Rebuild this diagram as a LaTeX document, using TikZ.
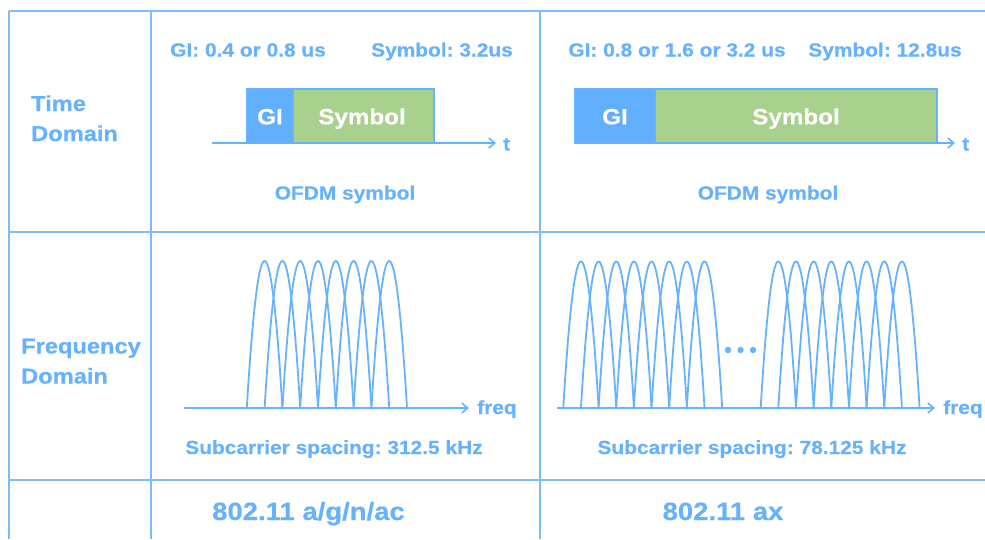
\documentclass[tikz,border=0pt]{standalone}
\usepackage{fontspec}
\setmainfont{Liberation Sans}[FakeStretch=1.1,FakeBold=0.5]
\frenchspacing
\usetikzlibrary{arrows.meta}
\definecolor{gridblue}{HTML}{7DBDF8}
\definecolor{lineblue}{HTML}{66B2FF}
\definecolor{txtblue}{HTML}{66B2FF}
\definecolor{gifill}{HTML}{62AEFF}
\definecolor{symgreen}{HTML}{A9D18E}
\tikzset{
  grid/.style={draw=gridblue, line width=1.4pt},
  lbl/.style={text=txtblue, font=\bfseries\fontsize{#1}{#1}\selectfont, inner sep=0pt, anchor=base},
  lbl/.default=19,
  rowhead/.style={text=txtblue, font=\bfseries\fontsize{21.5}{30}\selectfont, align=left, inner sep=0pt, anchor=base west},
  gibox/.style={draw=lineblue, line width=1.2pt, fill=gifill, minimum height=54pt, inner sep=0pt},
  symbox/.style={draw=lineblue, line width=1.2pt, fill=symgreen, minimum height=54pt, inner sep=0pt},
  boxtext/.style={text=white, font=\bfseries\fontsize{22}{22}\selectfont, inner sep=0pt, anchor=base},
  axis/.style={draw=lineblue, line width=1.8pt, -{Straight Barb[length=6pt,width=10pt,line width=1.6pt]}},
  arch/.style={draw=lineblue, line width=1.8pt},
}
\begin{document}
\begin{tikzpicture}[x=1pt,y=-1pt]
\useasboundingbox (0,0) rectangle (985,539);

% table rules
\draw[grid] (9,11) -- (985,11);
\draw[grid] (9,232) -- (985,232);
\draw[grid] (9,480) -- (985,480);
\draw[grid] (9,11) -- (9,539);
\draw[grid] (151,11) -- (151,539);
\draw[grid] (540,11) -- (540,539);

% row headings (base anchor sits on the last line)
\node[rowhead] (timehead) at (31,141) {Time\\Domain};
\node[rowhead] (freqhead) at (21,383.5) {Frequency\\Domain};

% ---- time domain, legacy ----
\node[lbl] (giA) at (248,56.5) {GI: 0.4 or 0.8 us};
\node[lbl] (symA) at (442,56.5) {Symbol: 3.2us};
\node[gibox, minimum width=46pt] (gA) at (270,116) {};
\node[symbox, minimum width=141pt] (sA) at (363.5,116) {};
\node[boxtext] (gAt) at (270,124.3) {GI};
\node[boxtext] (sAt) at (362,124.3) {Symbol};
\coordinate (tA0) at (212,143);
\coordinate (tA1) at (496,143);
\draw[axis] (tA0) -- (tA1);
\node[lbl, anchor=base west] (tlA) at (503,150.5) {t};
\node[lbl] (ofdmA) at (345,199.5) {OFDM symbol};

% ---- time domain, HE ----
\node[lbl] (giB) at (677,56.5) {GI: 0.8 or 1.6 or 3.2 us};
\node[lbl] (symB) at (885,56.5) {Symbol: 12.8us};
\node[gibox, minimum width=80pt] (gB) at (615,116) {};
\node[symbox, minimum width=282pt] (sB) at (796,116) {};
\node[boxtext] (gBt) at (615,124.3) {GI};
\node[boxtext] (sBt) at (796,124.3) {Symbol};
\coordinate (tB0) at (575,143);
\coordinate (tB1) at (955,143);
\draw[axis] (tB0) -- (tB1);
\node[lbl, anchor=base west] (tlB) at (962,150.5) {t};
\node[lbl] (ofdmB) at (768,199.5) {OFDM symbol};

% ---- frequency domain, legacy ----
\foreach \i in {0,...,7}
  \draw[arch] plot[domain=-1:1, samples=41, smooth]
    ({264.6+17.8*\i+17.8*\x},{408-147*(1-\x*\x)});
\coordinate (fA0) at (184,408);
\coordinate (fA1) at (469,408);
\draw[axis] (fA0) -- (fA1);
\node[lbl, anchor=base west] (fqA) at (477,414) {freq};
\node[lbl] (scA) at (334,454) {Subcarrier spacing: 312.5 kHz};

% ---- frequency domain, HE ----
\foreach \i in {0,...,7}
  \draw[arch] plot[domain=-1:1, samples=41, smooth]
    ({580.95+17.65*\i+17.65*\x},{407.5-146*(1-\x*\x)});
\foreach \i in {0,...,7}
  \draw[arch] plot[domain=-1:1, samples=41, smooth]
    ({778.35+17.65*\i+17.65*\x},{407.5-146*(1-\x*\x)});
\foreach \xx in {728,740.5,753}
  \fill[lineblue] (\xx,350) circle (3.2pt);
\coordinate (fB0) at (557,408);
\coordinate (fB1) at (935,408);
\draw[axis] (fB0) -- (fB1);
\node[lbl, anchor=base west] (fqB) at (943,414) {freq};
\node[lbl] (scB) at (752,454) {Subcarrier spacing: 78.125 kHz};

% standards
\node[lbl=25] (stdA) at (308.5,520) {802.11 a/g/n/ac};
\node[lbl=25] (stdB) at (723,520) {802.11 ax};
\end{tikzpicture}
\end{document}
